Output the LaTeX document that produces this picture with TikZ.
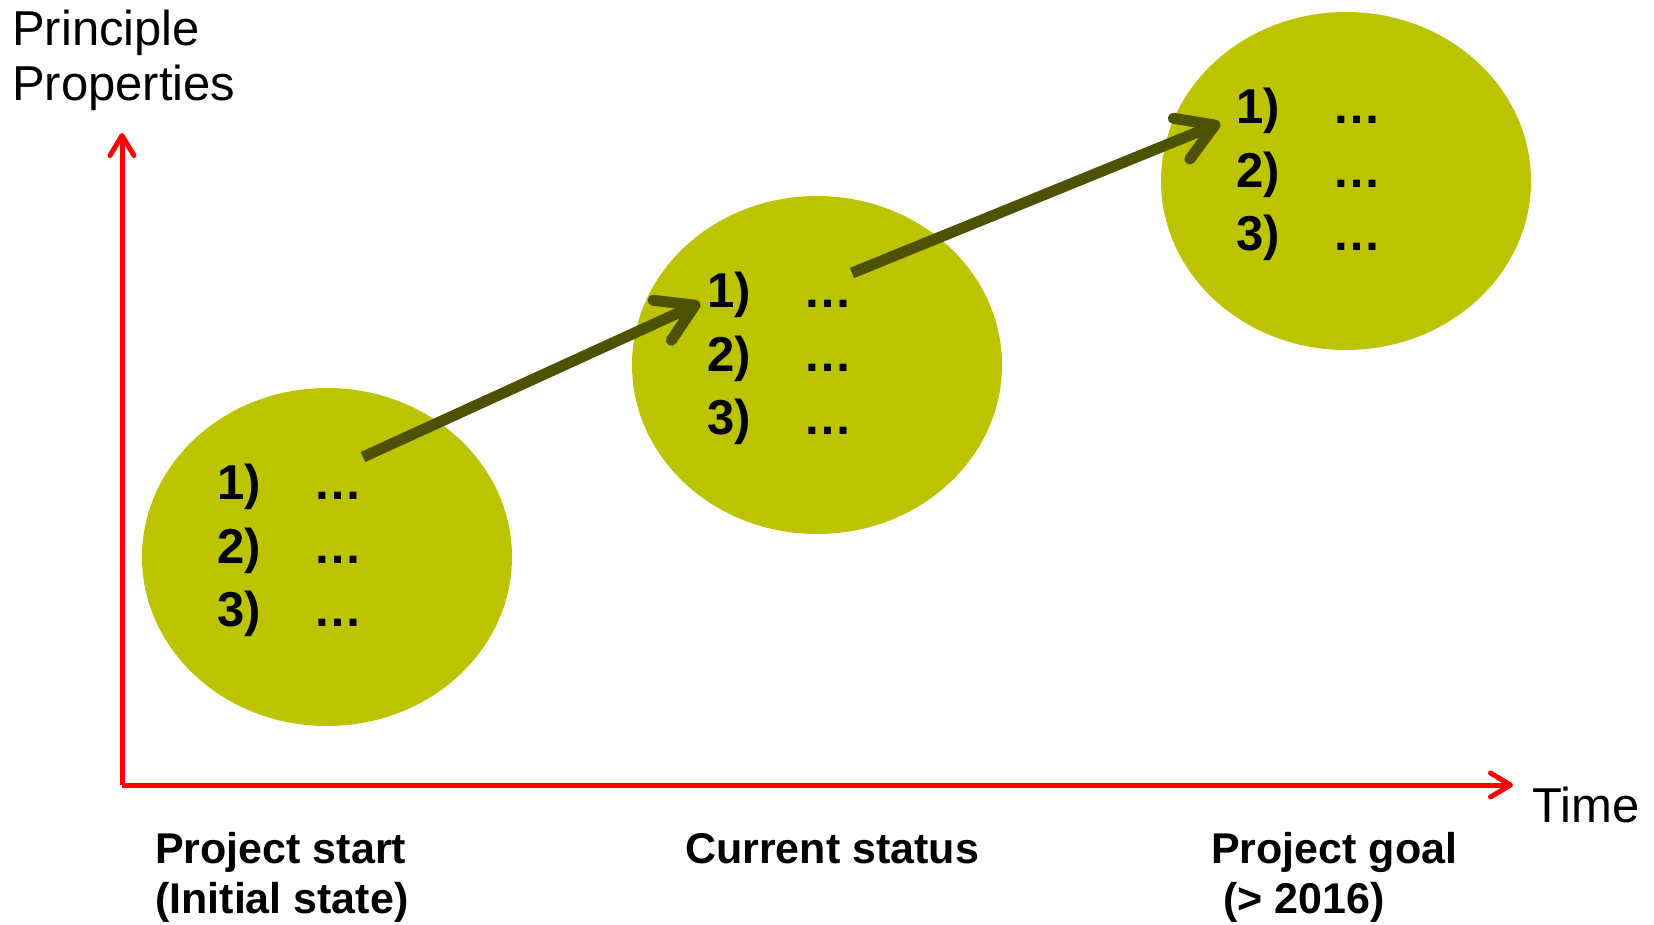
\documentclass[tikz,border=0pt]{standalone}
\usepackage{fontspec}
\setmainfont{Liberation Sans}
\usetikzlibrary{shapes.geometric,arrows.meta,calc}
\definecolor{olivefill}{RGB}{188,196,0}
\definecolor{olivearrow}{RGB}{77,82,0}
\definecolor{axisred}{RGB}{255,0,0}
\begin{document}
\begin{tikzpicture}[x=1pt,y=-1pt,
  blob/.style={ellipse,fill=olivefill,draw=none,minimum width=370pt,minimum height=338pt,inner sep=0pt},
  axisline/.style={draw=axisred,line width=5pt,-{Straight Barb[length=20pt,width=24pt,round]}},
  progarrow/.style={draw=olivearrow,line width=11pt,-{Straight Barb[length=36pt,width=44pt,round]}},
  reglabel/.style={font=\fontsize{49}{55}\selectfont,anchor=base west,inner sep=0pt},
  boldlabel/.style={font=\fontsize{43}{50}\selectfont\bfseries,anchor=base west,inner sep=0pt},
  item/.style={font=\fontsize{49}{55}\selectfont\bfseries,anchor=base west,inner sep=0pt}]
\useasboundingbox (0,0) rectangle (1654,924);
\fill[white] (0,0) rectangle (1654,924);
% ellipses
\node[blob] (e1) at (327,557) {};
\node[blob] (e2) at (817,365) {};
\node[blob] (e3) at (1346,181) {};
% lists
\foreach \e in {e1,e2,e3}{
  \node[item] (\e n1) at ($(\e.center)+(-110,-58)$) {1)};
  \node[item] (\e n2) at ($(\e.center)+(-110,6)$) {2)};
  \node[item] (\e n3) at ($(\e.center)+(-110,69)$) {3)};
  \node[item] (\e d1) at ($(\e.center)+(-14,-58)$) {…};
  \node[item] (\e d2) at ($(\e.center)+(-14,6)$) {…};
  \node[item] (\e d3) at ($(\e.center)+(-14,69)$) {…};
}
% axes
\coordinate (o) at (122,785);
\coordinate (ytip) at (122,133);
\coordinate (xtip) at (1513,785);
\draw[axisline] (o) -- (ytip);
\draw[axisline] (o) -- (xtip);
% progress arrows
\coordinate (a1s) at (363,457);
\coordinate (a1e) at (700,303);
\coordinate (a2s) at (852,273);
\coordinate (a2e) at (1220,123);
\draw[progarrow] (a1s) -- (a1e);
\draw[progarrow] (a2s) -- (a2e);
% labels
\node[reglabel] (pp1) at (12,45) {Principle};
\node[reglabel] (pp2) at (12,100) {Properties};
\node[reglabel] (time) at (1532,822) {Time};
\node[boldlabel] (ps1) at (155,863) {Project start};
\node[boldlabel] (ps2) at (155,913) {(Initial state)};
\node[boldlabel] (cs) at (685,863) {Current status};
\node[boldlabel] (pg1) at (1211,863) {Project goal};
\node[boldlabel] (pg2) at (1211,913) {\ (> 2016)};
\end{tikzpicture}
\end{document}
